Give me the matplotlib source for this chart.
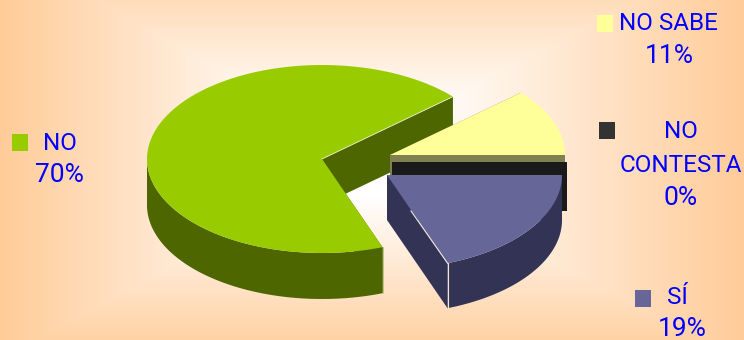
import numpy as np
import matplotlib
matplotlib.use("Agg")
import matplotlib.pyplot as plt
from matplotlib.colors import LinearSegmentedColormap

# Survey answers, in counter-clockwise order around the pie
categories = ["NO", "SÍ", "NO CONTESTA", "NO SABE"]
shares = [70, 19, 0, 11]
top_colors = ["#99CC00", "#666699", "#333333", "#FFFF99"]
side_colors = ["#4D6600", "#333355", "#1A1A1A", "#808050"]

START_ANGLE = 39.6
RX, RY = 175.0, 94.0
ANGLE_WARP = 2.0  # degrees of foreshortening from the tilted viewpoint
centres = {"NO": (322, 159), "SÍ": (387, 175), "NO CONTESTA": (392, 162), "NO SABE": (390, 155)}
depths = {"NO": 46, "SÍ": 45, "NO CONTESTA": 49, "NO SABE": 45}
draw_order = ["NO", "NO SABE", "NO CONTESTA", "SÍ"]

TEXT = "#0000FF"
FONT = "Roboto"
NAME_SIZE = 17.5
SHARE_SIZE = 19

fig = plt.figure(figsize=(7.44, 3.40), dpi=100)
ax = fig.add_axes([0, 0, 1, 1])
ax.set_xlim(0, 744)
ax.set_ylim(340, 0)
ax.axis("off")

# Rectangular peach backdrop with a white plateau behind the pie
xx, yy = np.meshgrid(np.linspace(0, 744, 744), np.linspace(0, 340, 340))
tx = np.maximum((300 - xx) / 300, (xx - 420) / 324)
ty = np.maximum((115 - yy) / 170, (yy - 195) / 165)
t = np.clip(np.maximum(tx, ty), 0, 1)
cmap = LinearSegmentedColormap.from_list("peach", ["#FFFFFF", "#FFCC99"], N=256)
ax.imshow(t, extent=(0, 744, 340, 0), cmap=cmap, vmin=0, vmax=1, aspect="auto", zorder=0)


def rim(cx, cy, a0, a1, n=120):
    a = np.radians(np.linspace(a0, a1, n))
    a = a + np.radians(ANGLE_WARP) * np.sin(2 * a)
    return cx + RX * np.cos(a), cy - RY * np.sin(a)


# Slice angles derived from the shares
spans = {}
angle = START_ANGLE
for name, share in zip(categories, shares):
    spans[name] = (angle, angle + share * 3.6)
    angle += share * 3.6

z = 2
for name in draw_order:
    i = categories.index(name)
    a0, a1 = spans[name]
    cx, cy = centres[name]
    d = depths[name]
    side = side_colors[i]
    # Radial walls of the slice; the one at the leading angle faces the viewer
    for a in (a1, a0):
        x, y = rim(cx, cy, a, a, 1)
        ax.fill([cx, x[0], x[0], cx], [cy, y[0], y[0] + d, cy + d], color=side, lw=0, zorder=z)
        z += 1
    # Outer wall, only where the rim runs along the front of the disc
    front0, front1 = max(a0, 180), min(a1, 360)
    if front1 > front0:
        x, y = rim(cx, cy, front0, front1)
        ax.fill(np.r_[x, x[::-1]], np.r_[y, y[::-1] + d], color=side, lw=0, zorder=z)
        z += 1
    # Top face
    x, y = rim(cx, cy, a0, a1)
    ax.fill(np.r_[cx, x], np.r_[cy, y], color=top_colors[i], lw=0, zorder=z)
    z += 1

# Pale highlights along the sharp edges
x, y = rim(*centres["NO"], spans["NO"][0], spans["NO"][0], 1)
ax.plot([centres["NO"][0], x[0]], [centres["NO"][1], y[0]], color="#E8F0C0", lw=0.6, zorder=z)
x, y = rim(*centres["NO"], spans["NO"][1], spans["NO"][1], 1)
ax.plot([x[0], x[0]], [y[0], y[0] + depths["NO"]], color="#A8B070", lw=0.5, zorder=z)
x, y = rim(*centres["SÍ"], spans["SÍ"][0], spans["SÍ"][0], 1)
ax.plot([centres["SÍ"][0] + 24, x[0]], [centres["SÍ"][1] + 36, y[0]], color="#F0E8E0", lw=0.8, zorder=z)
ax.plot([x[0], x[0]], [y[0], y[0] + depths["SÍ"]], color="#F5E6D8", lw=0.8, zorder=z)

# Legend swatches and labels
swatches = {"NO": (12, 134), "NO SABE": (597, 15), "NO CONTESTA": (599, 122), "SÍ": (635, 290)}
for name, (sx, sy) in swatches.items():
    i = categories.index(name)
    ax.fill([sx, sx + 16, sx + 16, sx], [sy, sy, sy + 17, sy + 17], color=top_colors[i], lw=0, zorder=z)

name_labels = [("NO", 60, 143), ("NO SABE", 668, 24), ("NO", 681, 132),
               ("CONTESTA", 681, 165), ("SÍ", 677, 298)]
share_labels = [("70%", 59, 175), ("11%", 669, 56), ("0%", 681, 198), ("19%", 682, 329)]
for group, size in ((name_labels, NAME_SIZE), (share_labels, SHARE_SIZE)):
    for text, tx_, ty_ in group:
        ax.text(tx_, ty_, text, color=TEXT, fontsize=size, family=FONT, ha="center", va="center", zorder=z + 1)

fig.savefig("out.png", dpi=100)
